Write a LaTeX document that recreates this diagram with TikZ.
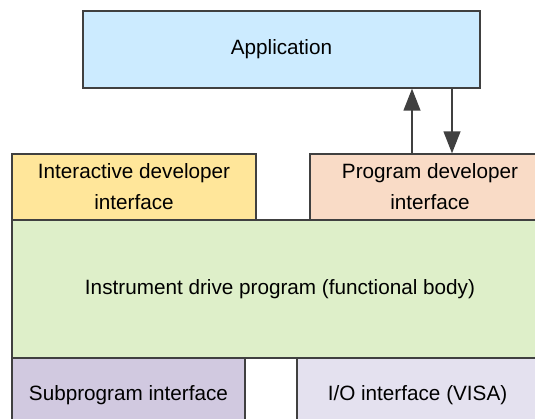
\documentclass[tikz,border=0pt]{standalone}
\usepackage{fontspec}
\setmainfont{Liberation Sans}
\usetikzlibrary{arrows.meta}
\definecolor{appblue}{HTML}{CCEBFF}
\definecolor{idyellow}{HTML}{FFE69A}
\definecolor{pdpeach}{HTML}{F9DBC6}
\definecolor{bodygreen}{HTML}{DEEFC9}
\definecolor{subviolet}{HTML}{D1C9E0}
\definecolor{iolilac}{HTML}{E4E1EF}
\definecolor{edgegray}{HTML}{404040}
\tikzset{
  layer/.style={draw=edgegray,line width=1.1bp,inner sep=0pt,align=center,
    font=\fontsize{20.7bp}{31bp}\selectfont},
  flow/.style={draw=edgegray,line width=2.6bp,-{Triangle[length=22bp,width=16.5bp]}}
}

\begin{document}
\begin{tikzpicture}[line join=miter]
\useasboundingbox (0bp,0bp) rectangle (535bp,419bp);
%%
\node (app) at (281.5bp,369.5bp) [layer,fill=appblue,minimum width=397bp,minimum height=77bp] {Application};
  \node (idi) at (134bp,232bp) [layer,fill=idyellow,minimum width=244bp,minimum height=66bp] {Interactive developer\\interface};
  \node (idp) at (280bp,130bp) [layer,fill=bodygreen,minimum width=536bp,minimum height=138bp] {Instrument drive program (functional body)};
  \node (pdi) at (430bp,232bp) [layer,fill=pdpeach,minimum width=240bp,minimum height=66bp] {Program developer\\interface};
  \node (sub) at (128.5bp,24bp) [layer,fill=subviolet,minimum width=233bp,minimum height=74bp] {Subprogram interface};
  \node (io) at (417.5bp,24bp) [layer,fill=iolilac,minimum width=241bp,minimum height=74bp] {I/O interface (VISA)};
  \coordinate (up) at (412bp,0bp);
  \coordinate (down) at (452bp,0bp);
  \draw [flow] (pdi.north -| up) -- (app.south -| up);
  \draw [flow] (app.south -| down) -- (pdi.north -| down);
%
\end{tikzpicture}
\end{document}
